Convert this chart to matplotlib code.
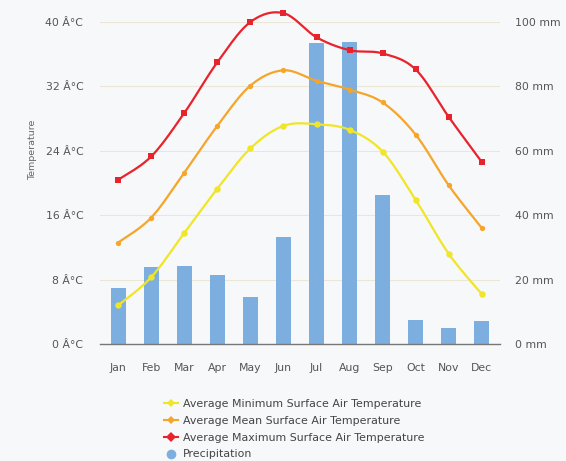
import numpy as np
import matplotlib
matplotlib.use("Agg")
import matplotlib.pyplot as plt
from matplotlib.lines import Line2D

plt.rcParams['font.family'] = ['DejaVu Sans']

months = ["Jan", "Feb", "Mar", "Apr", "May", "Jun", "Jul", "Aug", "Sep", "Oct", "Nov", "Dec"]
t_min = [4.8, 8.3, 13.8, 19.3, 24.3, 27.1, 27.3, 26.6, 23.9, 17.9, 11.2, 6.2]
t_mean = [12.6, 15.7, 21.3, 27.1, 32.1, 34.0, 32.7, 31.6, 30.0, 26.0, 19.7, 14.4]
t_max = [20.4, 23.3, 28.7, 35.0, 40.0, 41.1, 38.1, 36.5, 36.1, 34.1, 28.2, 22.6]
precip = [17.3, 23.8, 24.3, 21.5, 14.7, 33.3, 93.4, 93.9, 46.3, 7.5, 4.9, 7.1]
temp_ticks = [0, 8, 16, 24, 32, 40]
precip_ticks = [0, 20, 40, 60, 80, 100]

names = ["Average Minimum Surface Air Temperature",
         "Average Mean Surface Air Temperature",
         "Average Maximum Surface Air Temperature",
         "Precipitation"]

c_min = "#f0e526"
c_mean = "#f5a52a"
c_max = "#e8232b"
c_bar = "#7cafdf"
bg = "#f7f8fa"


def spline(x, y, n=20):
    x = np.asarray(x, float)
    y = np.asarray(y, float)
    xs, ys = [], []
    pts = np.column_stack([x, y])
    P = np.vstack([pts[0], pts, pts[-1]])
    for i in range(1, len(P) - 2):
        p0, p1, p2, p3 = P[i - 1], P[i], P[i + 1], P[i + 2]
        t = np.linspace(0, 1, n, endpoint=False)[:, None]
        seg = 0.5 * ((2 * p1) + (-p0 + p2) * t + (2 * p0 - 5 * p1 + 4 * p2 - p3) * t ** 2
                     + (-p0 + 3 * p1 - 3 * p2 + p3) * t ** 3)
        xs.append(seg[:, 0]); ys.append(seg[:, 1])
    xs.append([x[-1]]); ys.append([y[-1]])
    return np.concatenate(xs), np.concatenate(ys)


fig = plt.figure(figsize=(5.66, 4.61), dpi=100, facecolor=bg)
ax = fig.add_axes([100 / 566, 1 - 344 / 461, 400 / 566, 322 / 461])
ax.set_facecolor(bg)
ax2 = ax.twinx()

x = np.arange(len(months))

ax2.bar(x, precip, width=0.45, color=c_bar, zorder=1)
ax2.set_ylim(0, 100)
ax2.set_yticks(precip_ticks)
ax2.set_yticklabels([f"{v} mm" for v in precip_ticks])

ax.set_zorder(ax2.get_zorder() + 1)
ax.patch.set_visible(False)
ax2.patch.set_visible(True)
ax2.patch.set_facecolor(bg)

for vals, col, mk, ms in [(t_min, c_min, "o", 4.6), (t_mean, c_mean, "o", 3.8), (t_max, c_max, "s", 5)]:
    sx, sy = spline(x, vals)
    ax.plot(sx, sy, color=col, lw=1.6, zorder=3, clip_on=False)
    ax.plot(x, vals, ls="none", marker=mk, ms=ms, mew=0, color=col, zorder=4, clip_on=False)

ax.set_xlim(-0.55, 11.55)
ax.set_ylim(0, 40)
ax.set_yticks(temp_ticks)
ax.set_yticklabels([f"{v} Â°C" for v in temp_ticks])
ax.set_xticks(x)
ax.set_xticklabels(months)

for v in temp_ticks[1:]:
    ax2.axhline(v * 2.5, color="#ece6d6", lw=0.8, zorder=0)

for a in (ax, ax2):
    for s in a.spines.values():
        s.set_visible(False)
    a.tick_params(length=0, labelsize=7.8, colors="#555555")
ax.spines["bottom"].set_visible(True)
ax.spines["bottom"].set_color("#777777")
ax.spines["bottom"].set_linewidth(1)
ax.tick_params(axis="y", pad=12)
ax2.tick_params(axis="y", pad=11)
ax.tick_params(axis="x", pad=14)

fig.text(33 / 566, 1 - 150 / 461, "Temperature", rotation=90, ha="center", va="center",
         fontsize=6.8, color="#666666")

handles = [
    Line2D([], [], color=c_min, marker="D", ms=4.5, mew=0, lw=1.5),
    Line2D([], [], color=c_mean, marker="D", ms=4, mew=0, lw=1.5),
    Line2D([], [], color=c_max, marker="D", ms=5, mew=0, lw=1.5),
    Line2D([], [], color=c_bar, marker="o", ms=7, mew=0, lw=0),
]
leg = fig.legend(handles, names, loc="upper left", bbox_to_anchor=(164 / 566, 1 - 399 / 461),
                 frameon=False, fontsize=7.9, handlelength=1.3, handletextpad=0.45,
                 labelspacing=0.62, borderaxespad=0, borderpad=0)
for t in leg.get_texts():
    t.set_color("#444444")

fig.savefig("out.png", dpi=100, facecolor=bg)
